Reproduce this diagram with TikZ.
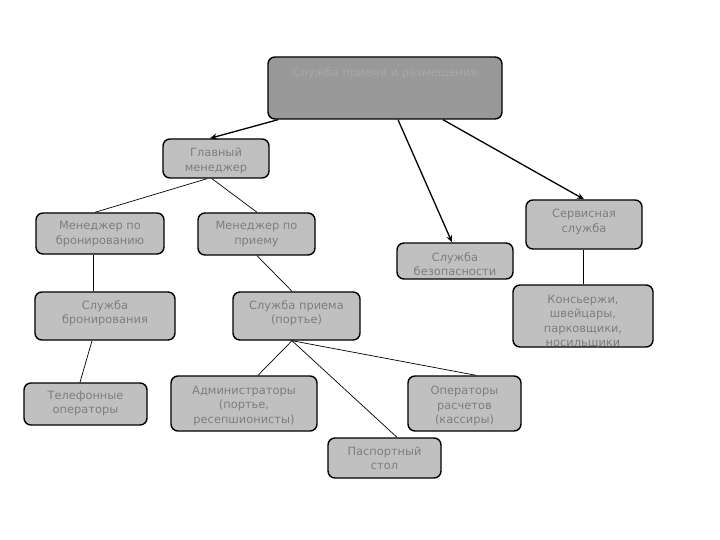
\documentclass[tikz,border=0pt]{standalone}
\usepackage{fontspec}
\setmainfont{DejaVu Sans}
\usetikzlibrary{arrows.meta}
\definecolor{boxfill}{HTML}{C0C0C0}
\definecolor{topfill}{HTML}{999999}
\definecolor{txtgray}{HTML}{7E7E7E}
\definecolor{toptxt}{HTML}{A8A8A8}
\tikzset{
  orgbox/.style={draw=black, line width=1.4pt, rounded corners=7pt, fill=boxfill, inner sep=0pt},
  topbox/.style={orgbox, fill=topfill},
  lbl/.style={text=txtgray, font=\fontsize{11.4}{14.3}\selectfont, align=center, inner sep=0pt},
  toplbl/.style={lbl, text=toptxt},
  link/.style={draw=black, line width=0.7pt},
  arr/.style={draw=black, line width=1.3pt, -{Stealth[length=7pt,width=6pt]}}
}
\begin{document}
\begin{tikzpicture}[x=1pt,y=-1pt]
\useasboundingbox (0,0) rectangle (720,540);
% boxes
\node[topbox, minimum width=234pt, minimum height=62pt] (top) at (385,88) {};
\node[toplbl] (toptext) at (385,73) {Служба приема и размещения};
\node[orgbox, minimum width=106pt, minimum height=39pt] (glav) at (216,158.5) {};
\node[lbl] (glavtext) at (216,161) {Главный\\менеджер};
\node[orgbox, minimum width=128pt, minimum height=41pt] (mbron) at (100,233.5) {};
\node[lbl] (mbrontext) at (100,234) {Менеджер по\\бронированию};
\node[orgbox, minimum width=117pt, minimum height=42pt] (mpriem) at (256.5,234) {};
\node[lbl] (mpriemtext) at (256.5,234) {Менеджер по\\приему};
\node[orgbox, minimum width=116pt, minimum height=36pt] (sbez) at (455,261) {};
\node[lbl] (sbeztext) at (455,264) {Служба\\безопасности};
\node[orgbox, minimum width=116pt, minimum height=49pt] (serv) at (584,224.5) {};
\node[lbl] (servtext) at (584,222) {Сервисная\\служба};
\node[orgbox, minimum width=140pt, minimum height=48pt] (sbron) at (105,316) {};
\node[lbl] (sbrontext) at (105,313.5) {Служба\\бронирования};
\node[orgbox, minimum width=127pt, minimum height=48pt] (spriem) at (296.5,316) {};
\node[lbl] (spriemtext) at (296.5,313.5) {Служба приема\\(портье)};
\node[orgbox, minimum width=140pt, minimum height=62pt] (kons) at (583,316) {};
\node[lbl] (konstext) at (583,321.5) {Консьержи,\\швейцары,\\парковщики,\\носильщики};
\node[orgbox, minimum width=123pt, minimum height=42pt] (tel) at (85.5,404) {};
\node[lbl] (teltext) at (85.5,403.5) {Телефонные\\операторы};
\node[orgbox, minimum width=146pt, minimum height=55pt] (adm) at (244,403.5) {};
\node[lbl] (admtext) at (244,406) {Администраторы\\(портье,\\ресепшионисты)};
\node[orgbox, minimum width=113pt, minimum height=55pt] (oper) at (464.5,403.5) {};
\node[lbl] (opertext) at (464.5,406) {Операторы\\расчетов\\(кассиры)};
\node[orgbox, minimum width=113pt, minimum height=40pt] (pasp) at (384.5,458) {};
\node[lbl] (pasptext) at (384.5,458.5) {Паспортный\\стол};
% arrows
\draw[arr] (top.south -| 278,0) -- (glav.north -| 210,0);
\draw[arr] (top.south -| 398,0) -- (sbez.north -| 452,0);
\draw[arr] (top.south -| 443,0) -- (serv.north -| 584,0);
% links
\draw[link] (glav.south -| 207,0) -- (mbron.north -| 95,0);
\draw[link] (glav.south -| 212,0) -- (mpriem.north -| 257,0);
\draw[link] (mbron.south -| 93,0) -- (sbron.north -| 93,0);
\draw[link] (mpriem.south -| 257,0) -- (spriem.north -| 292,0);
\draw[link] (sbron.south -| 92,0) -- (tel.north -| 80,0);
\draw[link] (serv.south -| 583,0) -- (kons.north -| 583,0);
\draw[link] (spriem.south -| 292,0) -- (adm.north -| 258,0);
\draw[link] (spriem.south -| 292,0) -- (pasp.north -| 397,0);
\draw[link] (spriem.south -| 292,0) -- (oper.north -| 476,0);
\end{tikzpicture}
\end{document}
